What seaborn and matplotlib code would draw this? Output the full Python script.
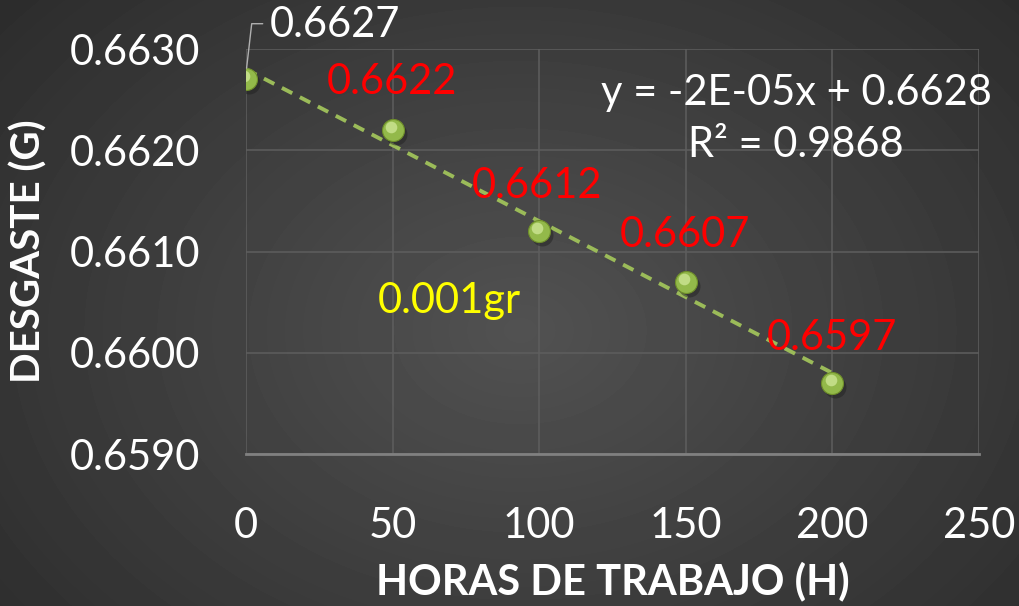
import numpy as np
import pandas as pd
import seaborn as sns
import matplotlib.pyplot as plt

# data
horas = [0, 50, 100, 150, 200]
desgaste = [0.6627, 0.6622, 0.6612, 0.6607, 0.6597]
etiquetas = ["0.6627", "0.6622", "0.6612", "0.6607", "0.6597"]
x_ticks = [0, 50, 100, 150, 200, 250]
y_ticks = [0.6590, 0.6600, 0.6610, 0.6620, 0.6630]

df = pd.DataFrame({"horas": horas, "desgaste": desgaste})

sns.set_style("dark", rc={"axes.facecolor": "none", "grid.color": "#5e5e5e"})
plt.rcParams["font.family"] = ["Lato", "DejaVu Sans"]

fig = plt.figure(figsize=(10.19, 6.06), dpi=100)

# radial dark-grey background
bg = fig.add_axes([0, 0, 1, 1], zorder=-10)
yy, xx = np.mgrid[0:606, 0:1019]
r = np.sqrt(((xx - 520) / 700.0) ** 2 + ((yy - 330) / 520.0) ** 2)
shade = np.clip(0.32 - 0.15 * r, 0.16, 0.33)
bg.imshow(shade, cmap="gray", vmin=0, vmax=1, aspect="auto", interpolation="bilinear")
bg.set_axis_off()

ax = fig.add_axes([0.2414, 0.2508, 0.7193, 0.6683])
ax.set_facecolor("none")

# trend line (linear fit)
m, b = np.polyfit(horas, desgaste, 1)
trend = pd.DataFrame({"horas": [0, 200]})
trend["fit"] = m * trend["horas"] + b
sns.lineplot(data=trend, x="horas", y="fit", ax=ax, color="#9bbb59",
             linewidth=2.8, linestyle=(0, (3, 2.2)), zorder=3)

# spheres: shadow, body, highlight
ax.scatter(np.array(horas) + 1.0, np.array(desgaste) - 0.00004, s=250,
           color="#1e1e1e", alpha=0.45, zorder=4, linewidths=0)
sns.scatterplot(data=df, x="horas", y="desgaste", ax=ax, s=250,
                color="#93b94a", edgecolor="#6f8f2a", linewidth=0.8, zorder=5)
ax.scatter(np.array(horas) - 0.6, np.array(desgaste) + 0.00003, s=70,
           color="#cde694", alpha=0.8, zorder=6, linewidths=0)

ax.set_xlim(0, 250)
ax.set_ylim(0.6590, 0.6630)
ax.set_xticks(x_ticks)
ax.set_yticks(y_ticks)
ax.set_yticklabels([f"{v:.4f}" for v in y_ticks])
ax.tick_params(axis="both", colors="white", labelsize=30, length=0)
ax.tick_params(axis="y", pad=33)
ax.tick_params(axis="x", pad=38)
ax.grid(True, color="#5e5e5e", linewidth=1.1)
for s in ["top", "right", "left"]:
    ax.spines[s].set_visible(False)
ax.spines["bottom"].set_color("#808080")
ax.spines["bottom"].set_linewidth(2)

ax.set_xlabel("HORAS DE TRABAJO (H)", color="white", fontsize=30,
              fontweight="bold", labelpad=12)
ax.set_ylabel("DESGASTE (G)", color="white", fontsize=29,
              fontweight="bold", labelpad=16)

# data labels
label_pos = [(8, 0.66324), (27.5, 0.66267), (77, 0.66165), (127.5, 0.66116), (177.5, 0.66015)]
label_col = ["white", "red", "red", "red", "red"]
for txt, (lx, ly), c in zip(etiquetas, label_pos, label_col):
    ax.text(lx, ly, txt, color=c, fontsize=30, ha="left", va="center",
            zorder=7, clip_on=False)
ax.plot([0.2, 1.95, 5.7], [0.66281, 0.66325, 0.66325], color="#b0b0b0",
        linewidth=1, zorder=6, clip_on=False)

ax.text(45, 0.66051, "0.001gr", color="#ffff00", fontsize=30, ha="left",
        va="center", zorder=7)
ax.text(187.7, 0.66257, f"y = {m:.0E}x + {b:.4f}",
        color="white", fontsize=30, ha="center", va="center", zorder=7)
ax.text(187.7, 0.66205, "R² = 0.9868", color="white", fontsize=30,
        ha="center", va="center", zorder=7)

fig.savefig("out.png", dpi=100)
